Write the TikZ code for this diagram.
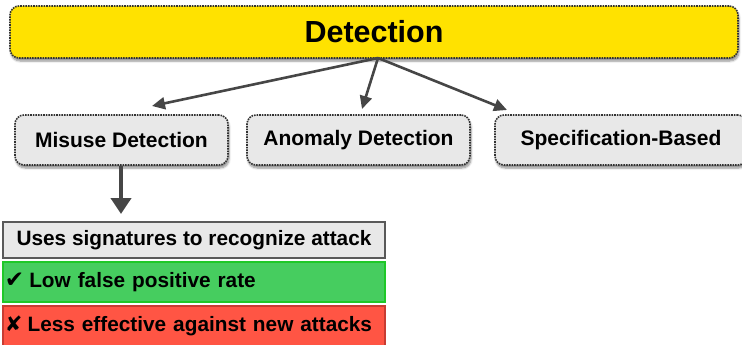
\documentclass[tikz,border=0pt]{standalone}
\usepackage{fontspec}
\setmainfont{Liberation Sans}
\newfontfamily\symfont{DejaVu Sans}
\usetikzlibrary{arrows.meta,shadows.blur}
\definecolor{ylw}{RGB}{255,226,0}
\definecolor{gbox}{RGB}{232,232,232}
\definecolor{grnfill}{RGB}{70,205,95}
\definecolor{grnline}{RGB}{30,200,40}
\definecolor{redfill}{RGB}{255,85,68}
\definecolor{redline}{RGB}{200,60,50}
\definecolor{arr}{RGB}{70,70,70}
\definecolor{dotline}{RGB}{50,50,50}
\begin{document}
\begin{tikzpicture}[x=1pt,y=1pt,
  topbox/.style={draw=dotline, densely dotted, line width=1.6pt, fill=ylw, rounded corners=9pt,
    minimum width=728pt, minimum height=52pt, inner sep=0pt,
    font=\fontsize{30.5}{32}\selectfont\bfseries,
    blur shadow={shadow xshift=1pt, shadow yshift=-3pt, shadow blur steps=6, shadow opacity=45}},
  catbox/.style={draw=dotline, densely dotted, line width=1.6pt, fill=gbox, rounded corners=9pt,
    minimum height=50pt, inner sep=0pt,
    font=\fontsize{21}{22}\selectfont\bfseries,
    blur shadow={shadow xshift=1pt, shadow yshift=-3pt, shadow blur steps=6, shadow opacity=45}},
  infobox/.style={line width=1.4pt, minimum width=382pt, inner sep=0pt,
    font=\fontsize{20.8}{22}\selectfont\bfseries},
  conn/.style={draw=arr, line width=2.6pt, -{Triangle[length=13pt,width=12pt]}}
]
\useasboundingbox (0,0) rectangle (742,-345);

\node[topbox] (det) at (374,-32) {Detection};

\node[catbox, minimum width=213pt] (mis) at (121.5,-140) {Misuse Detection};
\node[catbox, minimum width=223pt] (ano) at (358.5,-140) {Anomaly Detection};
\node[catbox, minimum width=252pt] (spe) at (621,-140) {Specification-Based};

\coordinate (src) at (378,-58);
\coordinate (tmis) at (152,-106);
\coordinate (tano) at (362,-109);
\coordinate (tspe) at (507,-110);
\draw[conn] (src) -- (tmis);
\draw[conn] (src) -- (tano);
\draw[conn] (src) -- (tspe);

\node[infobox, draw=gray!70!black, fill=gbox, minimum height=36pt] (use) at (194,-240) {Uses signatures to recognize attack};
\node[infobox, draw=grnline, fill=grnfill, minimum height=40pt, align=left, text width=378pt] (low) at (194,-282) {{\symfont\fontsize{23}{24}\selectfont ✔}\hspace{5pt}Low false positive rate};
\node[infobox, draw=redline, fill=redfill, minimum height=40pt, align=left, text width=378pt] (les) at (194,-326) {{\symfont\fontsize{21}{22}\selectfont ✘}\hspace{5pt}Less effective against new attacks};

\coordinate (tuse) at (121,-214);
\draw[draw=arr, line width=4.5pt, -{Triangle[length=16pt,width=20pt]}] (mis.south -| tuse) -- (tuse);
\end{tikzpicture}
\end{document}
